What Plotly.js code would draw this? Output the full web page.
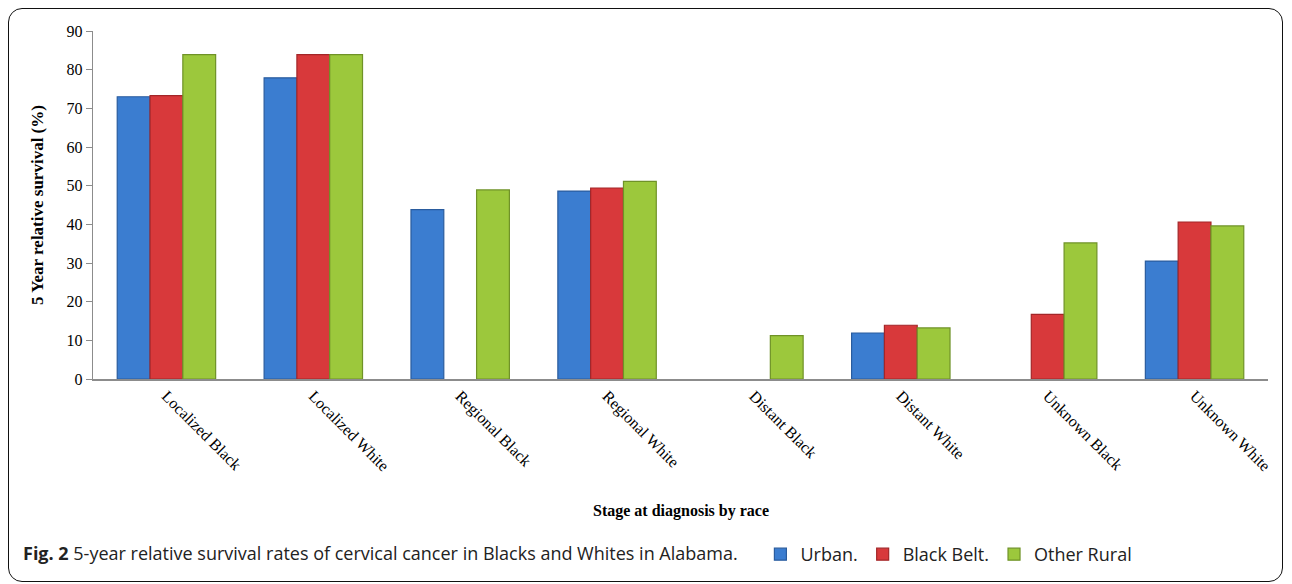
<!DOCTYPE html>
<html>
<head>
<meta charset="utf-8">
<script src="https://cdn.plot.ly/plotly-3.0.1.min.js"></script>
<style>
html,body{margin:0;padding:0;background:#fff;}
#wrap{position:relative;width:1292px;height:584px;}
#chart{width:1292px;height:584px;}
#frame{position:absolute;left:8px;top:8px;width:1275px;height:574px;border:1.5px solid #111;border-radius:14px;pointer-events:none;box-sizing:border-box;}
</style>
</head>
<body>
<div id="wrap"><div id="chart"></div><div id="frame"></div></div>
<script>
const categories = ["Localized Black","Localized White","Regional Black","Regional White","Distant Black","Distant White","Unknown Black","Unknown White"];
const urban      = [73.0, 77.9, 43.8, 48.6, null, 11.9, null, 30.5];
const blackBelt  = [73.3, 83.9, null, 49.4, null, 13.9, 16.7, 40.6];
const otherRural = [83.9, 83.9, 48.9, 51.1, 11.2, 13.2, 35.2, 39.6];
const yTicks = [0,10,20,30,40,50,60,70,80,90];

const serif = "Liberation Serif, Times New Roman, serif";
const sans = "Open Sans, Noto Sans, sans-serif";

function bar(name, y, fill, edge){
  return {type:"bar", name:name, x:categories, y:y,
    marker:{color:fill, line:{color:edge, width:1.2}}, hoverinfo:"x+y"};
}
const data = [
  bar("Urban.", urban, "#3b7dd0", "#2a5c9e"),
  bar("Black Belt.", blackBelt, "#d8393b", "#a32628"),
  bar("Other Rural", otherRural, "#9cc83c", "#6f9227")
];

const layout = {
  width:1292, height:584,
  margin:{l:93, r:24, t:31, b:204},
  paper_bgcolor:"#fff", plot_bgcolor:"#fff",
  barmode:"group", bargap:0.33, bargroupgap:0,
  showlegend:true,
  legend:{orientation:"h", x:0.568, xanchor:"left", y:-0.5, yanchor:"middle",
    font:{family:sans, size:18, color:"#222"}, itemwidth:30, tracegroupgap:0, bgcolor:"rgba(0,0,0,0)"},
  xaxis:{type:"category", showline:true, linecolor:"#8c8c8c", linewidth:1.5, ticks:"",
    tickangle:45, tickfont:{family:serif, size:16, color:"#000"}, showgrid:false, zeroline:false,
    fixedrange:true},
  yaxis:{range:[0,90], tickvals:yTicks, ticktext:yTicks.map(String), showline:true, linecolor:"#8c8c8c", linewidth:1.2,
    ticks:"outside", ticklen:6, tickcolor:"#8c8c8c", showgrid:false, zeroline:false,
    tickfont:{family:serif, size:16, color:"#000"},
    title:{text:"<b>5 Year relative survival (%)</b>", font:{family:serif, size:17, color:"#000"}, standoff:18}},
  annotations:[
    {xref:"paper", yref:"paper", x:0.5, y:(380-512)/349, xanchor:"center", yanchor:"middle", showarrow:false,
      text:"<b>Stage at diagnosis by race</b>", font:{family:serif, size:16, color:"#000"}},
    {xref:"paper", yref:"paper", x:(21-93)/1175, y:(380-555)/349, xanchor:"left", yanchor:"middle", showarrow:false,
      text:"<b>Fig. 2</b> 5-year relative survival rates of cervical cancer in Blacks and Whites in Alabama.",
      font:{family:sans, size:18, color:"#222"}}
  ]
};
Plotly.newPlot("chart", data, layout, {displayModeBar:false, staticPlot:true});
</script>
</body>
</html>
